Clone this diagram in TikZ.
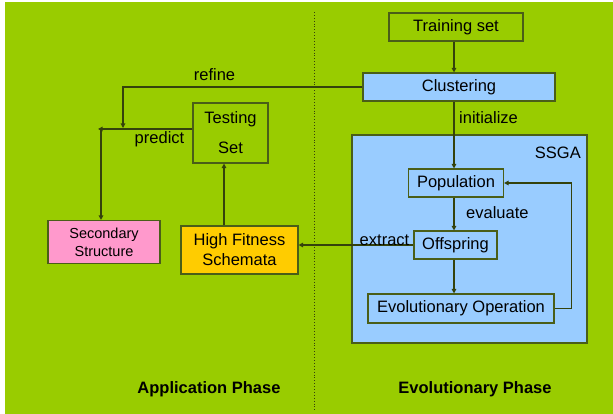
\documentclass[tikz,border=0pt]{standalone}
\usepackage{fontspec}
\setmainfont{Liberation Sans}
\usetikzlibrary{arrows.meta}
\definecolor{bggreen}{HTML}{99CC00}
\definecolor{lblue}{HTML}{99CCFF}
\definecolor{lpink}{HTML}{FF99CC}
\definecolor{lyellow}{HTML}{FFCC00}
\definecolor{bord}{HTML}{4A5E18}
\definecolor{lnc}{HTML}{34420C}
\tikzset{
  box/.style={draw=bord, line width=1.1pt, inner sep=0pt, font=\fontsize{16.5}{19}\selectfont, align=center},
  lab/.style={inner sep=0pt, font=\fontsize{16.5}{19}\selectfont},
  phase/.style={inner sep=0pt, font=\fontsize{16.5}{19}\selectfont\bfseries},
  arr/.style={draw=lnc, line width=1.1pt, -{Triangle[length=4.5pt,width=4.5pt]}},
  ln/.style={draw=lnc, line width=1.1pt}
}
\begin{document}
\begin{tikzpicture}[x=1pt,y=-1pt]
\useasboundingbox (0,0) rectangle (613,414);
\fill[bggreen] (5,2) rectangle (613,414);
\draw[lnc, line width=0.9pt, dotted] (314,12) -- (314,410);

% SSGA container
\node[draw=bord, line width=1.1pt, fill=lblue, minimum width=235pt, minimum height=208pt, inner sep=0pt] (ssga) at (469.5,239) {};
\node[lab, anchor=east] (ssgal) at (581,153) {SSGA};

\node[box, minimum width=134pt, minimum height=28pt] (train) at (456,27) {Training set};
\node[box, fill=lblue, minimum width=192pt, minimum height=28pt] (clust) at (459,87) {Clustering};
\node[box, fill=lblue, minimum width=95pt, minimum height=28pt] (pop) at (456,183) {Population};
\node[box, fill=lblue, minimum width=83pt, minimum height=28pt] (off) at (455.5,245) {Offspring};
\node[box, fill=lblue, minimum width=186pt, minimum height=29pt] (evo) at (461,308.5) {Evolutionary Operation};
\node[box, minimum width=75pt, minimum height=60pt] (test) at (230.5,133) {Testing\\[11pt]Set};
\node[box, fill=lyellow, minimum width=117pt, minimum height=48pt, font=\fontsize{16.5}{20}\selectfont] (hfs) at (239.5,250) {High Fitness\\Schemata};
\node[box, fill=lpink, minimum width=112pt, minimum height=43pt, font=\fontsize{14.5}{18}\selectfont] (sec) at (104,242) {Secondary\\Structure};

\coordinate (ax) at (454,0);
\coordinate (rf) at (123,128);
\coordinate (pl) at (98,129);
\coordinate (pv) at (101,129);
\coordinate (hx) at (224,0);

\draw[arr] (train.south -| ax) -- (clust.north -| ax);
\draw[arr] (clust.south -| ax) -- (pop.north -| ax);
\draw[arr] (pop.south -| ax) -- (off.north -| ax);
\draw[arr] (off.south -| ax) -- (evo.north -| ax);
\draw[arr] (evo.east) -- ++(17,0) |- (pop.east);
\draw[arr] (off.west) -- (off.west -| hfs.east);
\draw[arr] (hfs.north -| hx) -- (test.south -| hx);
\draw[arr] (clust.west) -| (rf);
\draw[arr] (test.west |- pl) -- (pl);
\draw[arr] (pv) -- (pv |- sec.north);

\node[lab, anchor=west] (linit) at (459,118) {initialize};
\node[lab, anchor=west] (leval) at (466,213) {evaluate};
\node[lab] (lext) at (384.5,240) {extract};
\node[lab] (lref) at (214.5,75) {refine};
\node[lab] (lpred) at (159.5,139) {predict};
\node[phase] (pa) at (209,389) {Application Phase};
\node[phase] (pe) at (475,389) {Evolutionary Phase};
\end{tikzpicture}
\end{document}
